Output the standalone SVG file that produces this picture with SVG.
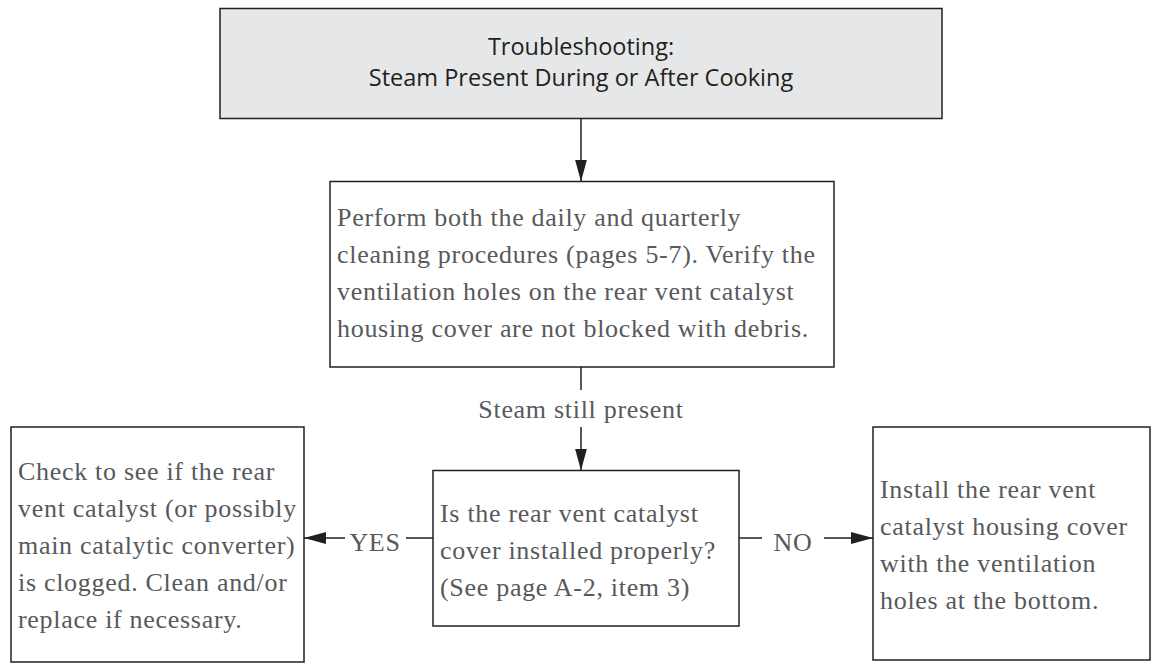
<svg xmlns="http://www.w3.org/2000/svg" width="1158" height="666" viewBox="0 0 1158 666">
<style>
.box{fill:#ffffff;stroke:#231f20;stroke-width:1.5}
.title-box{fill:#e6e7e8;stroke:#231f20;stroke-width:1.5}
.title{font-family:"Open Sans","Liberation Sans",sans-serif;font-size:23.5px;fill:#231f20;text-anchor:middle}
.t{font-family:"Liberation Serif","DejaVu Serif",serif;font-size:26px;fill:#58595b;letter-spacing:0.7px}
.lbl{font-family:"Liberation Serif","DejaVu Serif",serif;font-size:26px;fill:#58595b;letter-spacing:0.7px;text-anchor:middle}
.ln{stroke:#231f20;stroke-width:1.5;fill:none}
</style>
<defs>
<marker id="ah" markerUnits="userSpaceOnUse" markerWidth="22" markerHeight="12" refX="22" refY="6" orient="auto">
<path d="M0,0 L22,6 L0,12 z" fill="#231f20"/>
</marker>
</defs>
<g id="n-title">
<rect class="title-box" x="220" y="8.5" width="722" height="110"/>
<text class="title" x="581" y="55">Troubleshooting:</text>
<text class="title" x="581" y="86">Steam Present During or After Cooking</text>
</g>
<g id="n-clean">
<rect class="box" x="330" y="181.5" width="504" height="185.5"/>
<text class="t" x="337" y="225.5">Perform both the daily and quarterly</text>
<text class="t" x="337" y="262.5">cleaning procedures (pages 5-7). Verify the</text>
<text class="t" x="337" y="299.5">ventilation holes on the rear vent catalyst</text>
<text class="t" x="337" y="336.5">housing cover are not blocked with debris.</text>
</g>
<g id="n-question">
<rect class="box" x="433" y="470.5" width="306" height="155.5"/>
<text class="t" x="440" y="522">Is the rear vent catalyst</text>
<text class="t" x="440" y="559">cover installed properly?</text>
<text class="t" x="440" y="596">(See page A-2, item 3)</text>
</g>
<g id="n-yes">
<rect class="box" x="11" y="427" width="293" height="235"/>
<text class="t" x="18" y="480">Check to see if the rear</text>
<text class="t" x="18" y="517">vent catalyst (or possibly</text>
<text class="t" x="18" y="554">main catalytic converter)</text>
<text class="t" x="18" y="591">is clogged. Clean and/or</text>
<text class="t" x="18" y="628">replace if necessary.</text>
</g>
<g id="n-no">
<rect class="box" x="873" y="427" width="277" height="233"/>
<text class="t" x="880" y="498">Install the rear vent</text>
<text class="t" x="880" y="535">catalyst housing cover</text>
<text class="t" x="880" y="572">with the ventilation</text>
<text class="t" x="880" y="609">holes at the bottom.</text>
</g>
<g id="connectors">
<line class="ln" x1="581" y1="118.5" x2="581" y2="181.5" marker-end="url(#ah)"/>
<line class="ln" x1="581" y1="367" x2="581" y2="390"/>
<text class="lbl" x="581" y="418">Steam still present</text>
<line class="ln" x1="581" y1="427" x2="581" y2="470.5" marker-end="url(#ah)"/>
<line class="ln" x1="433" y1="538" x2="406" y2="538"/>
<text class="lbl" x="375" y="551">YES</text>
<line class="ln" x1="345" y1="538" x2="304" y2="538" marker-end="url(#ah)"/>
<line class="ln" x1="739" y1="538" x2="762" y2="538"/>
<text class="lbl" x="793" y="551">NO</text>
<line class="ln" x1="824" y1="538" x2="873" y2="538" marker-end="url(#ah)"/>
</g>
</svg>
